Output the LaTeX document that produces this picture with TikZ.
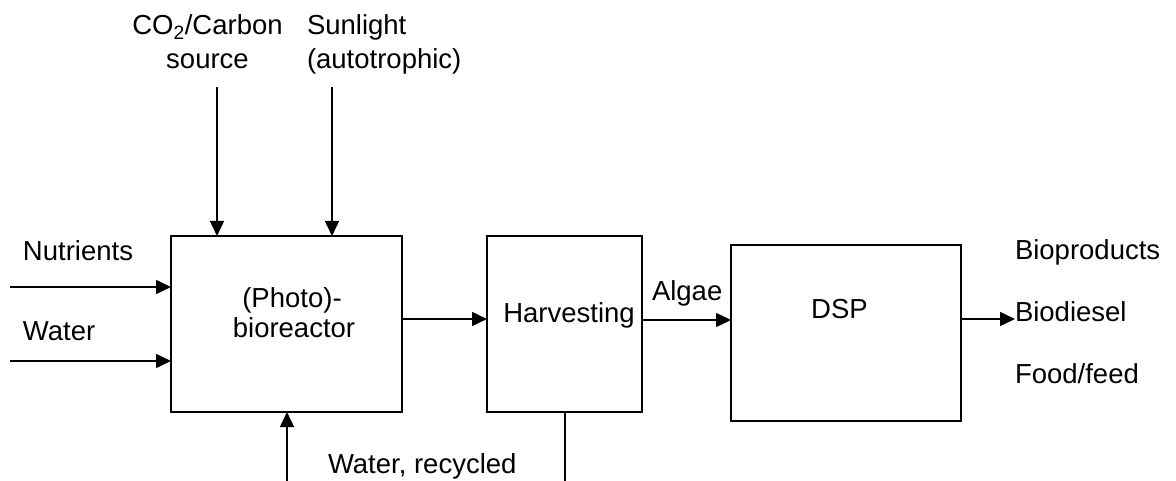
\documentclass[tikz,border=0pt]{standalone}
\usepackage{fontspec}
\setmainfont{Liberation Sans}
\usetikzlibrary{arrows.meta}
\begin{document}
\begin{tikzpicture}[x=1pt,y=-1pt,
  box/.style={draw, line width=1.5pt, inner sep=0pt, outer sep=0pt, anchor=north west},
  flow/.style={line width=1.5pt, -{Triangle[length=15pt,width=14pt]}},
  plainline/.style={line width=1.5pt},
  txt/.style={inner sep=0pt, outer sep=0pt, font=\fontsize{27.5}{33}\selectfont},
]
\useasboundingbox (0,0) rectangle (1176,481);

% boxes
\node[box, minimum width=231pt, minimum height=176pt] (pbr) at (171,236) {};
\node[box, minimum width=155pt, minimum height=176pt] (harv) at (487,236) {};
\node[box, minimum width=230pt, minimum height=176pt] (dsp) at (731,245) {};

% box texts
\node[txt, anchor=base] (pbr1) at (292,308) {(Photo)-};
\node[txt, anchor=base] (pbr2) at (294,337) {bioreactor};
\node[txt, anchor=base] (harvt) at (569,322) {Harvesting};
\node[txt, anchor=base] (dspt) at (839.5,318) {DSP};

% input labels
\node[txt, anchor=base] (co2a) at (207.5,35) {CO\textsubscript{2}/Carbon};
\node[txt, anchor=base] (co2b) at (207.5,69) {source};
\node[txt, anchor=base west] (suna) at (307,35) {Sunlight};
\node[txt, anchor=base west] (sunb) at (307,69) {(autotrophic)};
\node[txt, anchor=base west] (nut) at (23,261) {Nutrients};
\node[txt, anchor=base west] (wat) at (23,340) {Water};
\node[txt, anchor=base west] (algae) at (652,301) {Algae};
\node[txt, anchor=base west] (recyc) at (328,473) {Water, recycled};

% outputs
\node[txt, anchor=base west] (biop) at (1015,260) {Bioproducts};
\node[txt, anchor=base west] (biod) at (1015,321) {Biodiesel};
\node[txt, anchor=base west] (food) at (1015,383) {Food/feed};

% free ends
\coordinate (c0) at (217,87);
\coordinate (s0) at (332,87);
\coordinate (n0) at (10,287);
\coordinate (w0) at (10,361);
\coordinate (b0) at (287,481);
\coordinate (b1) at (565,481);
\coordinate (out) at (1015,319);

% connectors
\draw[flow] (c0) -- (c0 |- pbr.north);
\draw[flow] (s0) -- (s0 |- pbr.north);
\draw[flow] (n0) -- (pbr.west |- n0);
\draw[flow] (w0) -- (pbr.west |- w0);
\draw[flow] ([yshift=5pt]pbr.east) -- ([yshift=5pt]harv.west);
\draw[flow] ([yshift=4pt]harv.east) -- ([yshift=4pt]harv.east -| dsp.west);
\draw[flow] (dsp.east |- out) -- (out);
\draw[flow] (b0) -- (b0 |- pbr.south);
\draw[plainline] (harv.south -| b1) -- (b1);
\end{tikzpicture}
\end{document}
